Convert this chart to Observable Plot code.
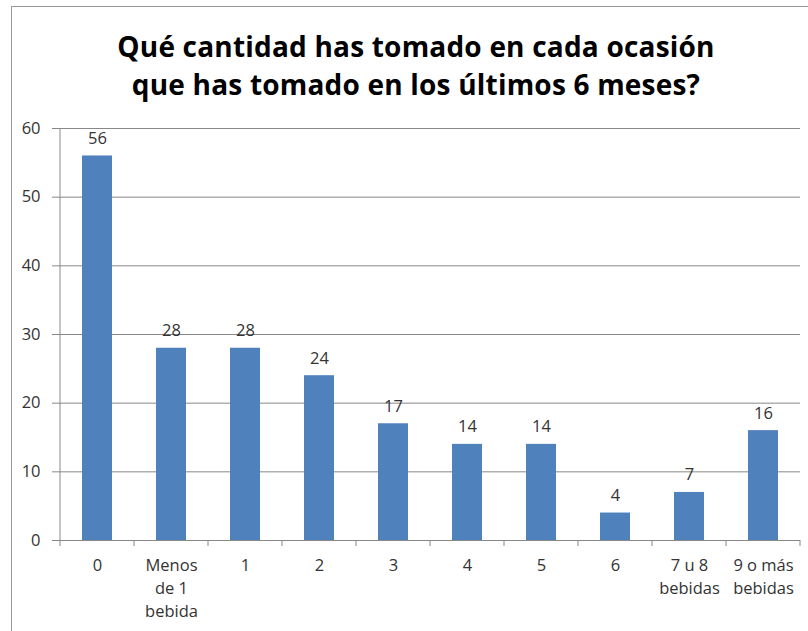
<!DOCTYPE html>
<html><head><meta charset="utf-8">
<script src="https://cdn.jsdelivr.net/npm/d3@7"></script>
<script src="https://cdn.jsdelivr.net/npm/@observablehq/plot@0.6"></script>
<style>
body{margin:0;background:#fff;width:808px;height:631px;overflow:hidden;position:relative;font-family:"Open Sans",sans-serif;}
#frame{position:absolute;left:11px;top:6px;width:820px;height:640px;border-left:1px solid #999;border-top:1px solid #999;}
#title{position:absolute;left:12px;top:27px;width:808px;text-align:center;font-weight:bold;font-size:28px;letter-spacing:0.2px;line-height:38px;color:#000;}
#chart{position:absolute;left:0;top:110px;}
</style></head><body>
<div id="frame"></div>
<div id="title">Qué cantidad has tomado en cada ocasión<br>que has tomado en los últimos 6 meses?</div>
<div id="chart"></div>
<script>
const categories = ["0","Menos\nde 1\nbebida","1","2","3","4","5","6","7 u 8\nbebidas","9 o más\nbebidas"];
const values = [56,28,28,24,17,14,14,4,7,16];
const yTicks = [0,10,20,30,40,50,60];
const data = categories.map((c,i)=>({cat:c, value:values[i]}));

function bandTicks(...args) {
  const dim = args.find(a => a && typeof a === "object" && "marginLeft" in a && "width" in a);
  const g = d3.create("svg:g").attr("stroke","#888").attr("stroke-width",1);
  const n = categories.length;
  const w = (dim.width - dim.marginLeft - dim.marginRight) / n;
  const y0 = dim.height - dim.marginBottom;
  for (let k = 0; k <= n; k++) {
    const x = dim.marginLeft + k * w;
    g.append("line").attr("x1",x).attr("x2",x).attr("y1",y0).attr("y2",y0+6);
  }
  g.append("line").attr("x1",dim.marginLeft).attr("x2",dim.marginLeft)
    .attr("y1",dim.marginTop).attr("y2",y0);
  return g.node();
}

const chart = Plot.plot({
  width: 808, height: 521,
  marginTop: 18, marginBottom: 91, marginLeft: 60, marginRight: 8,
  style: {fontFamily: "Open Sans", fontSize: "16.5px", color: "#333", background: "transparent", overflow: "visible"},
  x: {domain: categories, paddingInner: 0.6, paddingOuter: 0.3, label: null},
  y: {domain: [0, 60], ticks: yTicks, label: null},
  marks: [
    Plot.gridY(yTicks, {stroke: "#888", strokeOpacity: 1}),
    Plot.barY(data, {x: "cat", y: "value", fill: "#4F81BD"}),
    Plot.ruleY([0], {stroke: "#888"}),
    Plot.axisY({ticks: yTicks, tickSize: 8, tickPadding: 12, stroke: "#888", fill: "#333", fontSize: 16.5, label: null}),
    Plot.axisX({tickSize: 0, tickPadding: 14, fill: "#333", fontSize: 16.5, lineHeight: 1.4, lineAnchor: "top", label: null}),
    bandTicks,
    Plot.text(data, {x: "cat", y: "value", text: d => String(d.value), dy: -12, lineAnchor: "bottom", fill: "#333", fontSize: 16.5})
  ]
});
document.getElementById("chart").append(chart);
</script>
</body></html>
